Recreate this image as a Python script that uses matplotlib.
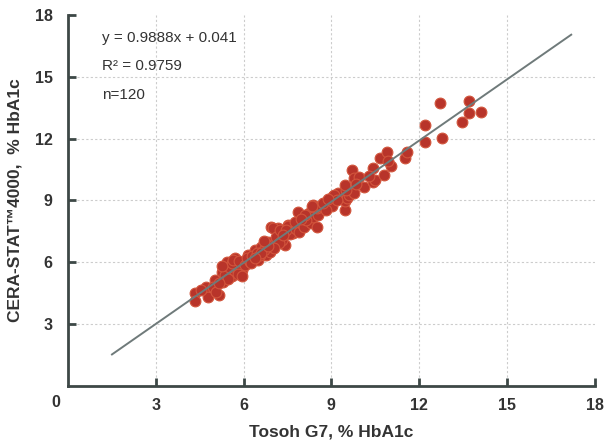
import matplotlib
matplotlib.use("Agg")
import matplotlib.pyplot as plt

plt.rcParams['font.family'] = ['Liberation Sans', 'DejaVu Sans']

# Tosoh G7 (x) vs CERA-STAT 4000 (y), % HbA1c
tosoh = [4.35, 4.35, 4.71, 4.78, 5.03, 5.17, 5.25, 5.42, 5.71, 5.59, 5.93, 5.76, 5.37,
         4.55, 4.95, 5.05, 5.30, 5.45, 5.50, 5.60, 5.25, 5.80, 5.65, 5.85, 5.95, 5.15,
         6.04, 6.21, 6.16, 6.38, 6.50, 6.61, 6.78, 6.83, 6.89, 6.10, 6.30, 6.45, 6.55,
         6.70, 6.25, 6.95, 6.95, 7.17, 7.00, 7.12, 7.23, 7.40, 7.51, 7.51, 7.68, 7.30,
         7.20, 7.05, 7.60, 7.45, 6.60, 6.40, 6.85, 7.35, 7.80, 7.90, 6.70, 7.75,
         7.87, 8.02, 8.07, 8.30, 8.24, 8.38, 8.55, 8.50, 8.36, 8.52, 8.47, 8.66, 8.33,
         9.03, 9.07, 9.22, 9.09, 9.45, 9.48, 9.54, 9.62, 9.79, 9.51, 9.48, 8.15, 8.80,
         8.70, 9.20, 8.10, 7.95, 8.90,
         9.71, 9.77, 9.93, 10.13, 10.42, 10.42, 10.49, 10.81, 11.03, 10.67, 10.89,
         11.52, 11.58, 9.85, 10.30, 10.95,
         12.21, 12.21, 12.72, 12.79, 13.46, 13.70, 13.70, 14.11]
cera = [4.50, 4.14, 4.82, 4.33, 5.15, 4.42, 5.55, 6.03, 6.20, 5.31, 5.63, 5.79, 5.39,
        4.65, 4.80, 4.55, 5.05, 5.20, 5.75, 5.95, 5.80, 5.45, 6.10, 6.05, 5.35, 5.00,
        5.87, 6.03, 6.36, 6.60, 6.12, 6.76, 6.36, 7.00, 6.52, 6.20, 6.30, 6.45, 6.35,
        6.60, 5.95, 6.85, 7.73, 7.66, 7.66, 7.25, 7.57, 6.84, 7.82, 7.77, 7.41, 7.10,
        6.95, 6.70, 7.35, 7.55, 6.45, 6.20, 6.80, 7.30, 7.60, 7.45, 7.05, 7.95,
        8.46, 7.82, 7.73, 7.90, 8.41, 8.22, 8.30, 7.73, 8.79, 8.62, 8.70, 8.74, 8.74,
        8.74, 9.22, 9.35, 9.27, 8.54, 8.95, 9.11, 9.27, 9.35, 9.51, 9.76, 8.05, 8.55,
        8.90, 9.00, 8.30, 8.10, 9.05,
        10.49, 10.08, 10.16, 9.64, 10.57, 9.92, 10.00, 10.24, 10.65, 11.05, 11.37,
        11.08, 11.37, 9.80, 10.20, 10.90,
        12.67, 11.84, 13.74, 12.04, 12.82, 13.83, 13.25, 13.30]

slope, intercept = 0.9888, 0.041
fit_x = [1.5, 17.2]
fit_y = [slope * v + intercept for v in fit_x]

ticks = [3, 6, 9, 12, 15, 18]
dark = '#3d4846'
txt = '#333333'

fig = plt.figure(figsize=(6.08, 4.44), dpi=100)
ax = fig.add_axes([0.112, 0.131, 0.866, 0.835])

for v in ticks[:-1]:
    ax.axvline(v, color='#cccccc', lw=0.8, ls=(0, (2, 2)), zorder=0)
    ax.axhline(v, color='#cccccc', lw=0.8, ls=(0, (2, 2)), zorder=0)

ax.scatter(tosoh, cera, s=60, c='#b8342a', edgecolors='#d2553c', linewidths=0.8, zorder=2)
ax.plot(fit_x, fit_y, color='#6f7a7a', lw=1.4, zorder=3)

ax.set_xlim(0, 18)
ax.set_ylim(0, 18)
ax.set_xticks(ticks)
ax.set_yticks(ticks)
for s in ['top', 'right']:
    ax.spines[s].set_visible(False)
for s in ['left', 'bottom']:
    ax.spines[s].set_color(dark)
    ax.spines[s].set_linewidth(2)
ax.tick_params(direction='in', length=6, width=2, color=dark, labelcolor=txt,
               labelsize=11.5)
ax.tick_params(axis='x', pad=9)
ax.tick_params(axis='y', pad=11)
for lab in ax.get_xticklabels() + ax.get_yticklabels():
    lab.set_fontweight('bold')
ax.annotate('0', xy=(0, 0), xytext=(-9, -12), textcoords='offset points',
            ha='center', va='center', fontsize=11.5, fontweight='bold', color=txt,
            annotation_clip=False)

ax.set_xlabel('Tosoh G7, % HbA1c', fontsize=12.5, fontweight='bold', color=txt, labelpad=8)
ax.set_ylabel('CERA-STAT™4000,  % HbA1c', fontsize=12.5, fontweight='bold', color=txt,
              labelpad=9)

ax.text(0.065, 0.938, 'y = 0.9888x + 0.041', transform=ax.transAxes, fontsize=11,
        color=txt, va='center')
ax.text(0.065, 0.862, 'R² = 0.9759', transform=ax.transAxes, fontsize=11,
        color=txt, va='center')
ax.text(0.065, 0.784, 'n=120', transform=ax.transAxes, fontsize=11,
        color=txt, va='center')

fig.savefig('out.png', dpi=100)
